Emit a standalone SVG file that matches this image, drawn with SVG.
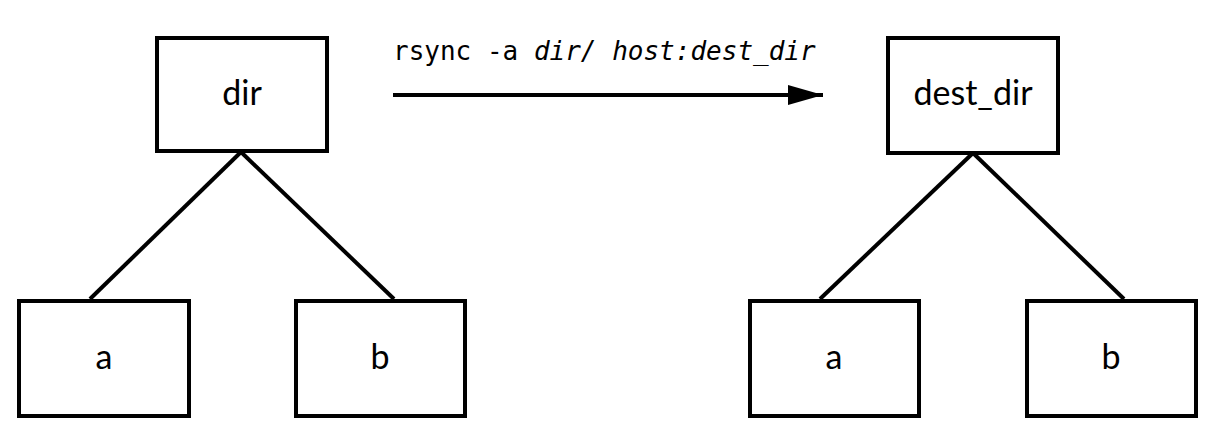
<svg xmlns="http://www.w3.org/2000/svg" width="1220" height="440" viewBox="0 0 1220 440">
  <style>
    .box { fill: #fff; stroke: #000; stroke-width: 4; }
    .lbl { font-family: Lato, "Noto Sans", "Liberation Sans", sans-serif; font-size: 34px; fill: #000; text-anchor: middle; }
    .edge { stroke: #000; stroke-width: 4; fill: none; }
    .cmd { font-family: "DejaVu Sans Mono", "Liberation Mono", monospace; font-size: 26px; fill: #000; }
  </style>
  <defs>
    <marker id="arrow" markerUnits="userSpaceOnUse" markerWidth="36" markerHeight="22" refX="35" refY="10" orient="auto">
      <polygon points="0,0 35,10 0,20" fill="#000"/>
    </marker>
  </defs>
  <rect width="1220" height="440" fill="#fff"/>
  <g id="connectors">
    <line class="edge" x1="241" y1="152" x2="90" y2="299"/>
    <line class="edge" x1="241" y1="152" x2="394" y2="299"/>
    <line class="edge" x1="973" y1="153" x2="820" y2="299"/>
    <line class="edge" x1="973" y1="153" x2="1124" y2="299"/>
    <line class="edge" x1="393" y1="95" x2="823" y2="95" marker-end="url(#arrow)"/>
    <text class="cmd" x="393" y="60" xml:space="preserve">rsync -a <tspan font-style="italic">dir/ host:dest_dir</tspan></text>
  </g>
  <g id="src-dir">
    <rect class="box" x="157" y="38" width="170" height="113"/>
    <text class="lbl" x="242" y="105">dir</text>
  </g>
  <g id="src-a">
    <rect class="box" x="19" y="301" width="170" height="115"/>
    <text class="lbl" x="104" y="369">a</text>
  </g>
  <g id="src-b">
    <rect class="box" x="296" y="301" width="169" height="115"/>
    <text class="lbl" x="380" y="369">b</text>
  </g>
  <g id="dst-dir">
    <rect class="box" x="888" y="38" width="170" height="115"/>
    <text class="lbl" x="973" y="105">dest_dir</text>
  </g>
  <g id="dst-a">
    <rect class="box" x="750" y="301" width="169" height="115"/>
    <text class="lbl" x="834" y="369">a</text>
  </g>
  <g id="dst-b">
    <rect class="box" x="1027" y="301" width="169" height="115"/>
    <text class="lbl" x="1111" y="369">b</text>
  </g>
</svg>
